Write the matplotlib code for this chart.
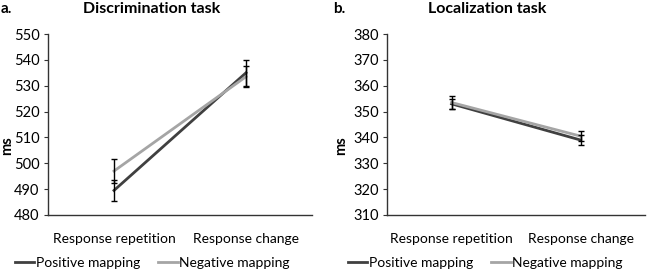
import matplotlib.pyplot as plt

plt.rcParams['font.family'] = ['Lato', 'DejaVu Sans']

categories = ['Response repetition', 'Response change']
series = ['Positive mapping', 'Negative mapping']

# Discrimination task (ms)
disc_pos = [489.5, 535.0]
disc_pos_err = [4.0, 5.0]
disc_neg = [497.0, 533.5]
disc_neg_err = [4.7, 4.0]

# Localization task (ms)
loc_pos = [353.0, 339.0]
loc_pos_err = [2.0, 2.0]
loc_neg = [353.5, 340.5]
loc_neg_err = [2.5, 2.0]

colors = ['#404040', '#a5a5a5']

fig = plt.figure(figsize=(6.49, 2.71), dpi=100)

panels = [
    dict(rect=[48/649, 56/271, 264/649, 181/271], title='Discrimination task', letter='a.',
         data=[(disc_pos, disc_pos_err), (disc_neg, disc_neg_err)], ylim=(480, 550),
         title_x=152/649, letter_x=1/649, ms_x=7/649, leg_x=15/649),
    dict(rect=[387/649, 56/271, 258/649, 181/271], title='Localization task', letter='b.',
         data=[(loc_pos, loc_pos_err), (loc_neg, loc_neg_err)], ylim=(310, 380),
         title_x=487/649, letter_x=333/649, ms_x=341/649, leg_x=348/649),
]

for p in panels:
    ax = fig.add_axes(p['rect'])
    xs = [0.5, 1.5]
    handles = []
    for (vals, errs), c, name in zip(p['data'], colors, series):
        h, = ax.plot(xs, vals, color=c, lw=2.0, label=name, zorder=2)
        handles.append(h)
    for (vals, errs) in p['data']:
        ax.errorbar(xs, vals, yerr=errs, fmt='none', ecolor='black', elinewidth=1.0,
                    capsize=2, capthick=1.0, zorder=3)
    ax.set_xlim(0, 2)
    ax.set_ylim(*p['ylim'])
    ax.set_yticks(range(p['ylim'][0], p['ylim'][1] + 1, 10))
    ax.set_xticks(xs)
    ax.set_xticklabels(categories)
    for s in ['top', 'right']:
        ax.spines[s].set_visible(False)
    for s in ['left', 'bottom']:
        ax.spines[s].set_color('#333333')
        ax.spines[s].set_linewidth(1.0)
    ax.tick_params(axis='x', length=0, labelsize=10, pad=13)
    ax.tick_params(axis='y', length=3, color='#333333', labelsize=10.5, pad=3)
    fig.text(p['ms_x'], 125/271, 'ms', rotation=90, ha='center', va='center',
             fontsize=10.5, fontweight='bold')
    fig.text(p['title_x'], 1 - 9/271, p['title'], ha='center', va='center',
             fontsize=11.5, fontweight='bold')
    fig.text(p['letter_x'], 1 - 9/271, p['letter'], ha='left', va='center',
             fontsize=11, fontweight='bold')
    fig.legend(handles=handles, loc='center left', bbox_to_anchor=(p['leg_x'], 8/271),
               ncol=2, frameon=False, fontsize=10, handlelength=1.4, handletextpad=0.1,
               columnspacing=1.3, borderpad=0, borderaxespad=0)

fig.savefig('out.png', dpi=100)
